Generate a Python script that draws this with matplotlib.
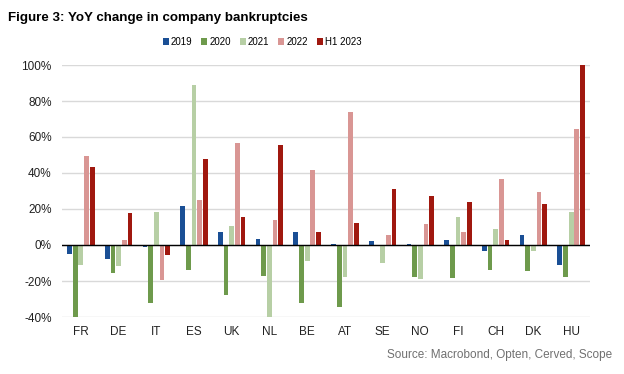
import matplotlib
matplotlib.use("Agg")
import matplotlib.pyplot as plt
import numpy as np
from matplotlib.ticker import FuncFormatter

plt.rcParams['font.family'] = ['Liberation Sans', 'DejaVu Sans']

countries = ["FR", "DE", "IT", "ES", "UK", "NL", "BE", "AT", "SE", "NO", "FI", "CH", "DK", "HU"]
series_names = ["2019", "2020", "2021", "2022", "H1 2023"]
v2019 = [-5, -7.5, -1, 21.8, 7, 3.5, 7, 0.6, 2.4, 0.4, 3, -3.3, 5.6, -11.3]
v2020 = [-40, -15.4, -32, -14, -28, -17, -32, -34.6, -0.8, -18, -18.6, -14, -14.5, -18]
v2021 = [-11, -11.7, 18.4, 89, 10.8, -40, -9, -17.7, -10, -18.8, 15.4, 8.7, -3.5, 18.4]
v2022 = [49.7, 2.8, -19.5, 25, 56.7, 14, 41.9, 74, 5.6, 11.5, 7, 36.6, 29.4, 64.6]
vH12023 = [43.3, 18, -5.6, 47.6, 15.4, 55.8, 7, 12, 31, 27.3, 23.8, 2.6, 22.7, 100]
yticks = [-40, -20, 0, 20, 40, 60, 80, 100]

colors = ["#1A4F95", "#6E9A4C", "#B7CFA5", "#D99694", "#A0180F"]
data = [v2019, v2020, v2021, v2022, vH12023]

fig = plt.figure(figsize=(6.24, 3.74), dpi=100)
ax = fig.add_axes([62/624, 1-317/374, (590-62)/624, (317-65)/374])

x = np.arange(len(countries))
pitch = 0.15
width = 0.125
for i, (vals, c, name) in enumerate(zip(data, colors, series_names)):
    ax.bar(x + (i - 2) * pitch, vals, width=width, color=c, label=name, zorder=3)

ax.set_xlim(-0.5, len(countries) - 0.5)
ax.set_ylim(-40, 100)
ax.set_yticks(yticks)
ax.yaxis.set_major_formatter(FuncFormatter(lambda v, p: f"{int(v)}%"))
ax.grid(axis='y', color='#D9D9D9', linewidth=1, zorder=0)
ax.axhline(0, color='black', linewidth=1, zorder=4)
for s in ax.spines.values():
    s.set_visible(False)
ax.set_xticks(x)
ax.set_xticklabels(countries)
ax.tick_params(axis='both', length=0, labelsize=8.5, colors='#222222')
ax.tick_params(axis='x', pad=6.5)
ax.tick_params(axis='y', pad=7.5)

fig.text(8/624, 1-18/374, "Figure 3: YoY change in company bankruptcies",
         fontsize=9.6, fontweight='bold', va='center', ha='left')

leg = fig.legend(loc='center', bbox_to_anchor=(262/624, 1-42/374), ncol=5, frameon=False,
                 fontsize=7.0, handlelength=0.6, handleheight=0.6, handletextpad=0.2,
                 columnspacing=0.95)

fig.text(612/624, 1-355/374, "Source: Macrobond, Opten, Cerved, Scope",
         fontsize=8.5, color='#707070', ha='right', va='center')

fig.savefig("out.png", dpi=100)
